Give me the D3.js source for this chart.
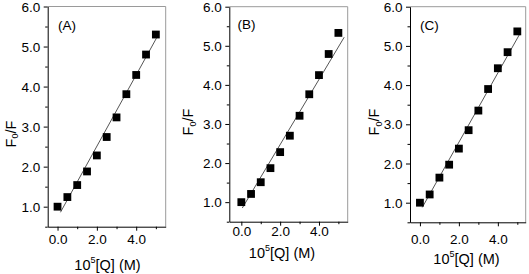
<!DOCTYPE html>
<html><head><meta charset="utf-8">
<script src="https://cdn.jsdelivr.net/npm/d3@7"></script>
<style>body{margin:0;background:#fff}svg{display:block}text{font-family:"Liberation Sans",Arial,sans-serif;fill:#000}</style>
</head><body>
<svg id="c" width="529" height="274"></svg>
<script>
// ---- data ----
const concentrations = [0, 0.5, 1.0, 1.5, 2.0, 2.5, 3.0, 3.5, 4.0, 4.5, 5.0];
const seriesA = [1.00, 1.24, 1.54, 1.88, 2.28, 2.74, 3.23, 3.81, 4.29, 4.80, 5.30];
const seriesB = [1.00, 1.21, 1.51, 1.87, 2.28, 2.70, 3.21, 3.76, 4.25, 4.79, 5.33];
const seriesC = [1.00, 1.21, 1.64, 1.97, 2.38, 2.85, 3.35, 3.90, 4.43, 4.84, 5.37];
const fitA = [[0.15, 0.86], [5.03, 5.21]];
const fitB = [[0.05, 0.85], [5.30, 5.22]];
const fitC = [[0.12, 0.88], [5.12, 5.30]];
const xTicks = [0, 1, 2, 3, 4, 5];
const xTickLabels = ["0.0", "", "2.0", "", "4.0", ""];
const yTicks = [0.5, 1.0, 1.5, 2.0, 2.5, 3.0, 3.5, 4.0, 4.5, 5.0, 5.5, 6.0];
const yTickLabels = ["", "1.0", "", "2.0", "", "3.0", "", "4.0", "", "5.0", "", "6.0"];
const panelLabels = ["(A)", "(B)", "(C)"];

// ---- layout ----
const panels = [
  {series: seriesA, fit: fitA, label: panelLabels[0], left: 47.7, right: 165.7, top: 6.5, bottom: 226.7,
   xDom: [-0.5, 5.5], tickY: 240, xTitleX: 107.5, xTitleY: 265, yTitleX: 10.5, yTitleY: 134, lab: [58, 25]},
  {series: seriesB, fit: fitB, label: panelLabels[1], left: 229.3, right: 347.7, top: 6.7, bottom: 221.7,
   xDom: [-0.62, 5.48], tickY: 231.5, xTitleX: 282, xTitleY: 253, yTitleX: 188.3, yTitleY: 122, lab: [237.5, 24]},
  {series: seriesC, fit: fitC, label: panelLabels[2], left: 410, right: 525.7, top: 6.7, bottom: 222.3,
   xDom: [-0.51, 5.43], tickY: 239.5, xTitleX: 466.5, xTitleY: 259, yTitleX: 374.3, yTitleY: 122, lab: [420, 25]}
];

const svg = d3.select("#c");
const FS = 13.5, TS = 14.5;

panels.forEach(p => {
  const x = d3.scaleLinear().domain(p.xDom).range([p.left, p.right]);
  const y = d3.scaleLinear().domain([0.5, 6.0]).range([p.bottom, p.top]);
  const g = svg.append("g");

  // frame top/right
  g.append("path").attr("d", `M${p.left},${p.top}H${p.right}V${p.bottom}`)
    .attr("fill", "none").attr("stroke", "#9a9a9a").attr("stroke-width", 1);

  // x axis
  const xa = d3.axisBottom(x).tickValues(xTicks).tickSizeOuter(0).tickSize(0).tickFormat("");
  const gx = g.append("g").attr("transform", `translate(0,${p.bottom})`).call(xa);
  gx.select(".domain").attr("stroke", "#000");
  gx.selectAll(".tick").append("line").attr("stroke", "#000")
    .attr("y2", (d, i) => xTickLabels[i] ? 4 : 2.5);
  gx.selectAll(".tick").append("text").attr("y", p.tickY - p.bottom)
    .attr("dominant-baseline", "central").attr("text-anchor", "middle")
    .style("font-size", FS + "px").text((d, i) => xTickLabels[i]);

  // y axis
  const ya = d3.axisLeft(y).tickValues(yTicks).tickSizeOuter(0).tickSize(0).tickFormat("");
  const gy = g.append("g").attr("transform", `translate(${p.left},0)`).call(ya);
  gy.select(".domain").attr("stroke", "#000");
  gy.selectAll(".tick").append("line").attr("stroke", "#000")
    .attr("x2", (d, i) => yTickLabels[i] ? -4 : -2.5);
  gy.selectAll(".tick").append("text").attr("x", -7.5)
    .attr("dominant-baseline", "central").attr("text-anchor", "end")
    .style("font-size", FS + "px").text((d, i) => yTickLabels[i]);

  // fit line
  g.append("path").datum(p.fit)
    .attr("d", d3.line().x(d => x(d[0])).y(d => y(d[1])))
    .attr("stroke", "#555").attr("stroke-width", 1).attr("fill", "none");

  // squares
  const s = 7.8;
  g.selectAll("rect.pt").data(concentrations.map((c, i) => [c, p.series[i]]))
    .enter().append("rect").attr("class", "pt")
    .attr("x", d => x(d[0]) - s / 2).attr("y", d => y(d[1]) - s / 2)
    .attr("width", s).attr("height", s).attr("fill", "#000");

  // panel label
  g.append("text").attr("x", p.lab[0]).attr("y", p.lab[1])
    .attr("dominant-baseline", "central").style("font-size", FS + "px").text(p.label);

  // x title
  const xt = g.append("text").attr("x", p.xTitleX).attr("y", p.xTitleY)
    .attr("dominant-baseline", "central").attr("text-anchor", "middle").style("font-size", TS + "px");
  xt.append("tspan").text("10");
  xt.append("tspan").attr("dy", -5.5).style("font-size", "9px").text("5");
  xt.append("tspan").attr("dy", 5.5).text("[Q] (M)");

  // y title
  const yt = g.append("text").attr("transform", `translate(${p.yTitleX},${p.yTitleY}) rotate(-90)`)
    .attr("dominant-baseline", "central").attr("text-anchor", "middle").style("font-size", TS + "px");
  yt.append("tspan").text("F");
  yt.append("tspan").attr("dy", 4.5).style("font-size", "9px").text("0");
  yt.append("tspan").attr("dy", -4.5).text("/F");
});
</script>
</body></html>
